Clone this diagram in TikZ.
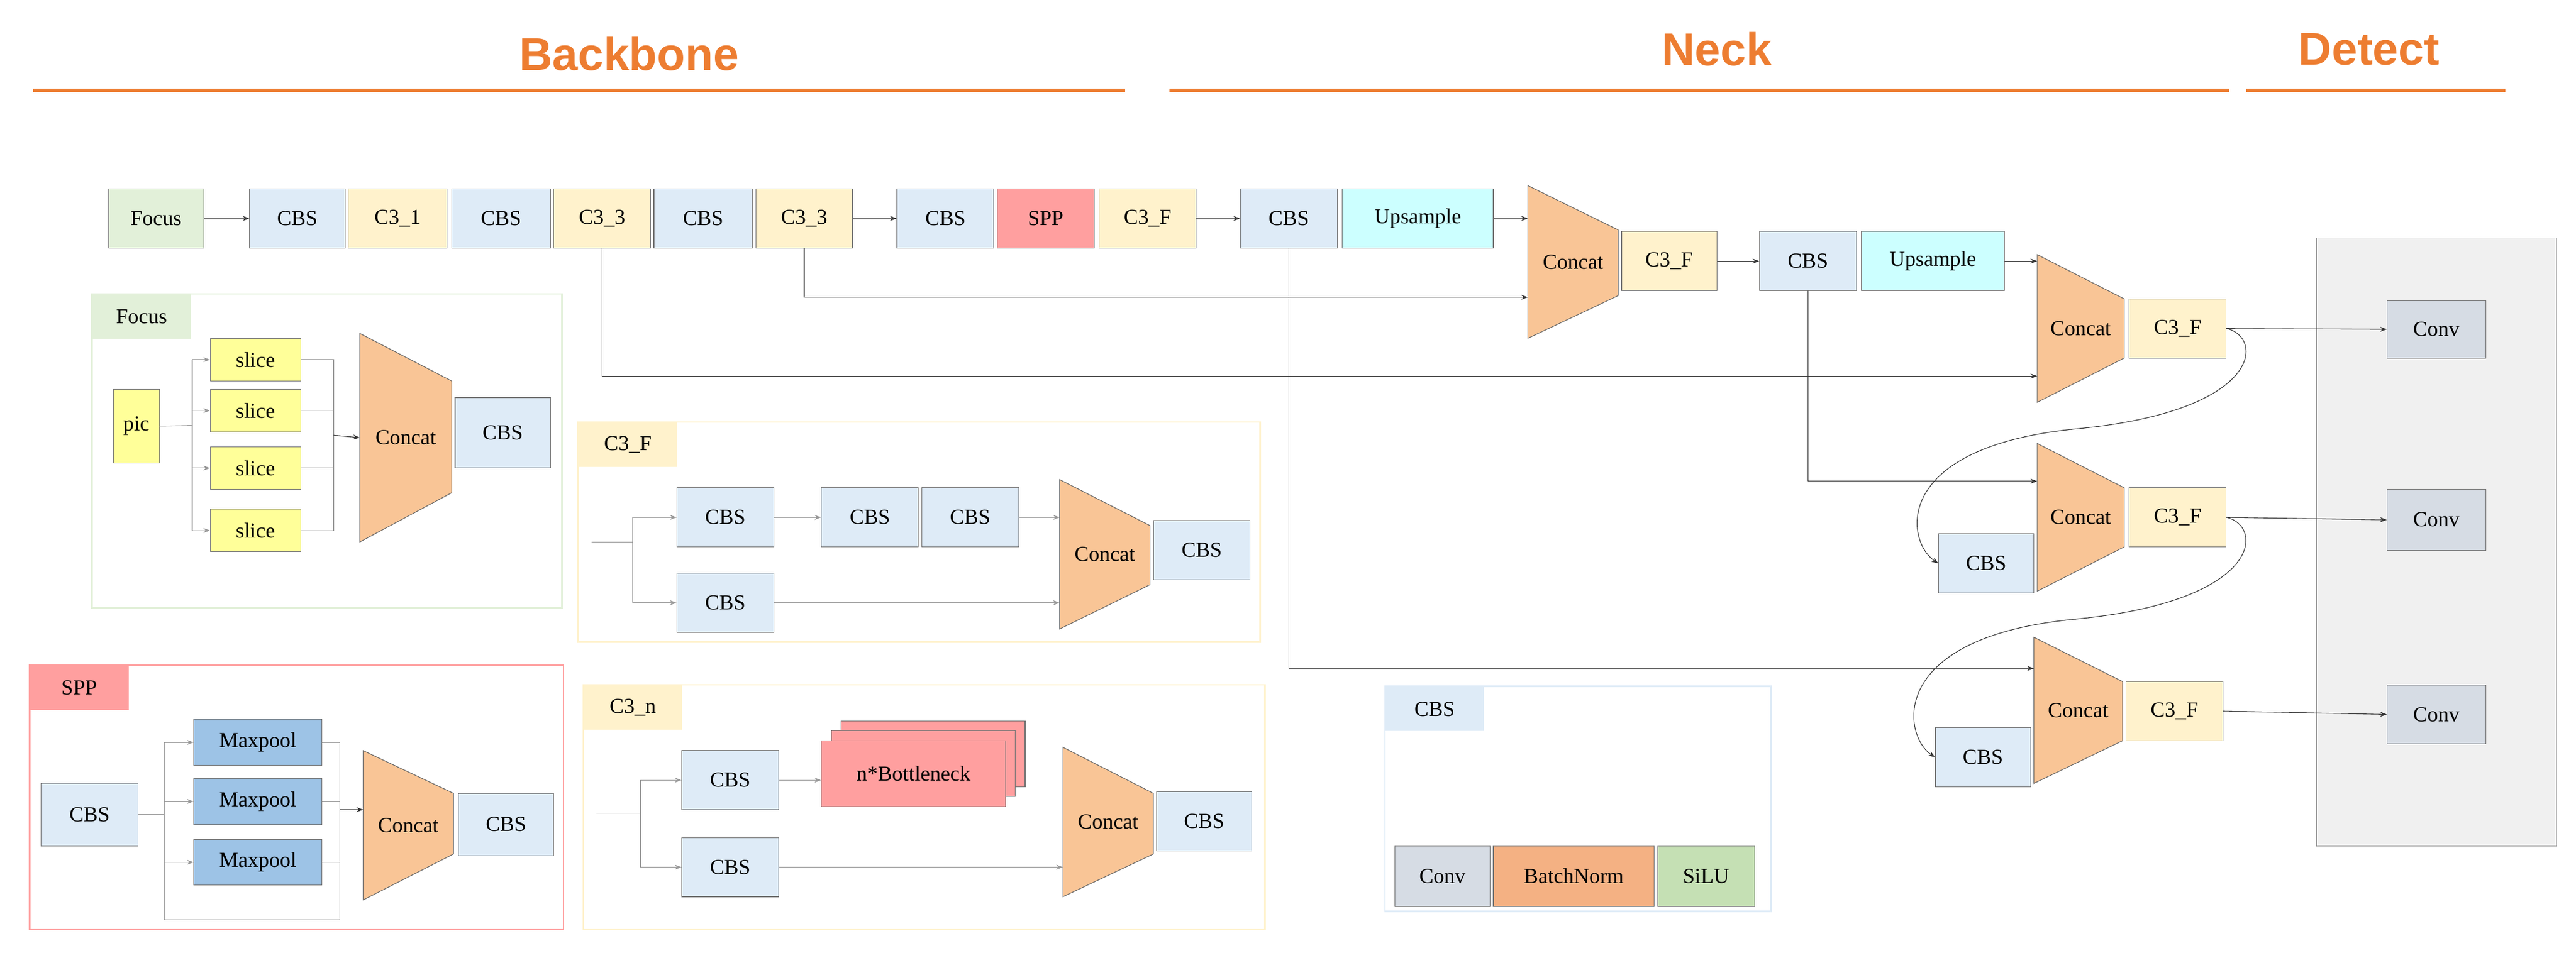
\documentclass[tikz,border=0pt]{standalone}
\usepackage{fontspec}
\setmainfont{Liberation Serif}
\newfontfamily\titlefont{Liberation Sans}
\usetikzlibrary{arrows.meta}
\definecolor{cbs}{HTML}{DEEBF7}
\definecolor{cthree}{HTML}{FFF2CC}
\definecolor{foc}{HTML}{E2F0D9}
\definecolor{spp}{HTML}{FF9F9F}
\definecolor{ups}{HTML}{CCFFFF}
\definecolor{catc}{HTML}{F9C596}
\definecolor{conv}{HTML}{D6DCE4}
\definecolor{bn}{HTML}{F4B183}
\definecolor{silu}{HTML}{C5E0B4}
\definecolor{slc}{HTML}{FFFF99}
\definecolor{mp}{HTML}{9DC3E6}
\definecolor{org}{HTML}{ED7D31}
\tikzset{
 box/.style={draw=black!55, inner sep=0pt, font=\fontsize{13}{15}\selectfont},
 catst/.style={draw=black!60, fill=catc},
 ar/.style={-{Stealth[length=4pt,width=3pt]}, draw=black!80},
 ln/.style={draw=black!80},
 sar/.style={-{Stealth[length=4pt,width=3pt]}, draw=black!40},
 sln/.style={draw=black!40},
 ttl/.style={font=\titlefont\bfseries\fontsize{28}{32}\selectfont, text=org},
 tline/.style={draw=org, line width=2.2pt},
}
\newcommand\bx[7]{\node[box,fill=#6,minimum width={(#4-#2)*1pt},minimum height={(#5-#3)*1pt}] (#1) at ({(#2+#4)/2},{(#3+#5)/2}) {#7};}
\newcommand\cat[7]{\draw[catst] (#2,#3) -- (#5,#6) -- (#5,#7) -- (#2,#4) -- cycle;
 \node[font=\fontsize{13}{15}\selectfont,inner sep=0pt] (#1) at ({(#2+#5)/2},{(#3+#4)/2}) {Concat};
 \coordinate (#1-l) at (#2,{(#3+#4)/2});}
\newcommand\panel[7]{\draw[draw=#6, line width=1pt] (#2,#3) rectangle (#4,#5);
 \node[fill=#6, minimum width=60pt, minimum height=27pt, anchor=north west, inner sep=0pt, font=\fontsize{13}{15}\selectfont] (#1) at (#2,#3) {#7};}
\begin{document}
\begin{tikzpicture}[x=1pt,y=-1pt]
\useasboundingbox (0,0) rectangle (1568,580);
% titles
\node[ttl] (tb) at (383,33) {Backbone};
\node[ttl] (tn) at (1045,30) {Neck};
\node[ttl] (td) at (1442,30) {Detect};
\coordinate (b1) at (20,55); \coordinate (b2) at (685,55);
\coordinate (n1) at (712,55); \coordinate (n2) at (1357,55);
\coordinate (d1) at (1367,55); \coordinate (d2) at (1525,55);
\draw[tline] (b1) -- (b2); \draw[tline] (n1) -- (n2); \draw[tline] (d1) -- (d2);
% detect panel
\draw[draw=black!50, fill=black!6] (1410,145) rectangle (1556,515);
% top row
\bx{focus}{66}{115}{124}{151}{foc}{Focus}
\bx{cbs1}{152}{115}{210}{151}{cbs}{CBS}
\bx{c31}{212}{115}{272}{151}{cthree}{C3\_1}
\bx{cbs2}{275}{115}{335}{151}{cbs}{CBS}
\bx{c33a}{337}{115}{396}{151}{cthree}{C3\_3}
\bx{cbs3}{398}{115}{458}{151}{cbs}{CBS}
\bx{c33b}{460}{115}{519}{151}{cthree}{C3\_3}
\bx{cbs4}{546}{115}{605}{151}{cbs}{CBS}
\bx{spp}{607}{115}{666}{151}{spp}{SPP}
\bx{c3fa}{669}{115}{728}{151}{cthree}{C3\_F}
\bx{cbs5}{755}{115}{814}{151}{cbs}{CBS}
\bx{ups1}{817}{115}{909}{151}{ups}{Upsample}
\cat{k1}{930}{113}{206}{985}{140}{180}
\bx{c3fb}{987}{141}{1045}{177}{cthree}{C3\_F}
\bx{cbs6}{1071}{141}{1130}{177}{cbs}{CBS}
\bx{ups2}{1133}{141}{1220}{177}{ups}{Upsample}
\cat{k2}{1240}{155}{245}{1293}{182}{218}
\bx{c3fc}{1296}{182}{1355}{218}{cthree}{C3\_F}
\cat{k3}{1240}{270}{360}{1293}{297}{333}
\bx{c3fd}{1296}{297}{1355}{333}{cthree}{C3\_F}
\bx{cbs7}{1180}{325}{1238}{361}{cbs}{CBS}
\cat{k4}{1238}{388}{477}{1292}{415}{451}
\bx{c3fe}{1294}{415}{1353}{451}{cthree}{C3\_F}
\bx{cbs8}{1178}{443}{1236}{479}{cbs}{CBS}
\bx{cv1}{1453}{183}{1513}{218}{conv}{Conv}
\bx{cv2}{1453}{298}{1513}{335}{conv}{Conv}
\bx{cv3}{1453}{417}{1513}{453}{conv}{Conv}
% top connectors
\draw[ar] (focus) -- (cbs1);
\draw[ar] (c33b) -- (cbs4);
\draw[ar] (c3fa) -- (cbs5);
\draw[ar] (ups1.east) -- (k1-l |- ups1.east);
\draw[ar] (c33b.south) |- (k1-l |- 0,181);
\draw[ar] (c33a.south) |- (k2-l |- 0,229);
\draw[ar] (c3fb) -- (cbs6);
\draw[ar] (ups2.east) -- (k2-l |- ups2.east);
\draw[ar] (cbs6.south) |- (k3-l |- 0,293);
\draw[ar] (cbs5.south) |- (k4-l |- 0,407);
\draw[ar] (c3fc.east) -- (cv1.west);
\draw[ar] (c3fd.east) -- (cv2.west);
\draw[ar] (c3fe.east) -- (cv3.west);
\draw[ar] (c3fc.east) .. controls (1378,205) and (1378,250) .. (1265,261) .. controls (1150,272) and (1160,330) .. (cbs7.west);
\draw[ar] (c3fd.east) .. controls (1378,320) and (1378,366) .. (1263,377) .. controls (1148,388) and (1158,448) .. (cbs8.west);
% Focus panel
\panel{fl}{56}{179}{342}{370}{foc}{Focus}
\bx{pic}{69}{237}{97}{282}{slc}{pic}
\bx{s1}{128}{206}{183}{232}{slc}{slice}
\bx{s2}{128}{237}{183}{263}{slc}{slice}
\bx{s3}{128}{272}{183}{298}{slc}{slice}
\bx{s4}{128}{310}{183}{336}{slc}{slice}
\cat{kf}{219}{203}{330}{275}{232}{300}
\bx{fcbs}{277}{242}{335}{285}{cbs}{CBS}
\coordinate (fb) at (117,259);
\draw[sln] (pic.east) -- (fb);
\draw[sln] (fb |- s1) -- (fb |- s4);
\foreach \s in {s1,s2,s3,s4}{\draw[sar] (fb |- \s) -- (\s.west); \draw[sln] (\s.east) -- ++(20,0);}
\coordinate (fr) at (203,265);
\draw[sln] (fr |- s1) -- (fr |- s4);
\draw[ar] (fr) -- (kf-l);
% C3_F panel
\panel{cfl}{352}{257}{767}{391}{cthree}{C3\_F}
\bx{f1}{412}{297}{471}{333}{cbs}{CBS}
\bx{f2}{500}{297}{559}{333}{cbs}{CBS}
\bx{f3}{561}{297}{620}{333}{cbs}{CBS}
\bx{f4}{412}{349}{471}{385}{cbs}{CBS}
\cat{kc}{645}{292}{383}{700}{320}{356}
\bx{f5}{702}{317}{761}{353}{cbs}{CBS}
\coordinate (fi) at (360,330); \coordinate (fbr) at (385,330);
\draw[sln] (fi) -- (fbr);
\draw[sln] (fbr |- f1) -- (fbr |- f4);
\draw[sar] (fbr |- f1) -- (f1.west);
\draw[sar] (fbr |- f4) -- (f4.west);
\draw[sar] (f1) -- (f2);
\draw[sar] (f3.east) -- (kc-l |- f3.east);
\draw[sar] (f4.east) -- (kc-l |- f4.east);
% SPP panel
\panel{sl}{18}{405}{343}{566}{spp}{SPP}
\bx{scbs}{25}{477}{84}{515}{cbs}{CBS}
\bx{m1}{118}{438}{196}{466}{mp}{Maxpool}
\bx{m2}{118}{474}{196}{502}{mp}{Maxpool}
\bx{m3}{118}{511}{196}{539}{mp}{Maxpool}
\cat{ks}{221}{457}{548}{276}{483}{520}
\bx{scbs2}{279}{483}{337}{521}{cbs}{CBS}
\coordinate (sb) at (100,496); \coordinate (sr) at (207,493);
\draw[sln] (scbs.east) -- (sb);
\draw[sln] (sb |- m1) -- (sb |- 0,560) -- (sr |- 0,560) -- (sr |- m1);
\foreach \m in {m1,m2,m3}{\draw[sar] (sb |- \m) -- (\m.west); \draw[sln] (\m.east) -- (sr |- \m);}
\draw[ar] (sr) -- (ks-l |- sr);
% C3_n panel
\panel{cnl}{355}{417}{770}{566}{cthree}{C3\_n}
\bx{n1}{415}{457}{474}{493}{cbs}{CBS}
\bx{n2}{415}{510}{474}{546}{cbs}{CBS}
\bx{nb3}{512}{439}{624}{479}{spp}{}
\bx{nb2}{506}{445}{618}{485}{spp}{}
\bx{nb}{500}{451}{612}{491}{spp}{n*Bottleneck}
\cat{kn}{647}{455}{546}{702}{483}{520}
\bx{n3}{704}{482}{762}{518}{cbs}{CBS}
\coordinate (ni) at (363,495); \coordinate (nbr) at (390,495);
\draw[sln] (ni) -- (nbr);
\draw[sln] (nbr |- n1) -- (nbr |- n2);
\draw[sar] (nbr |- n1) -- (n1.west);
\draw[sar] (nbr |- n2) -- (n2.west);
\draw[sar] (n1.east) -- (nb.west |- n1.east);
\draw[sar] (n2.east) -- (kn-l |- n2.east);
% CBS legend
\panel{ll}{843}{418}{1078}{555}{cbs}{CBS}
\bx{lc}{849}{515}{907}{552}{conv}{Conv}
\bx{lb}{909}{515}{1007}{552}{bn}{BatchNorm}
\bx{ls}{1009}{515}{1068}{552}{silu}{SiLU}
\end{tikzpicture}
\end{document}
